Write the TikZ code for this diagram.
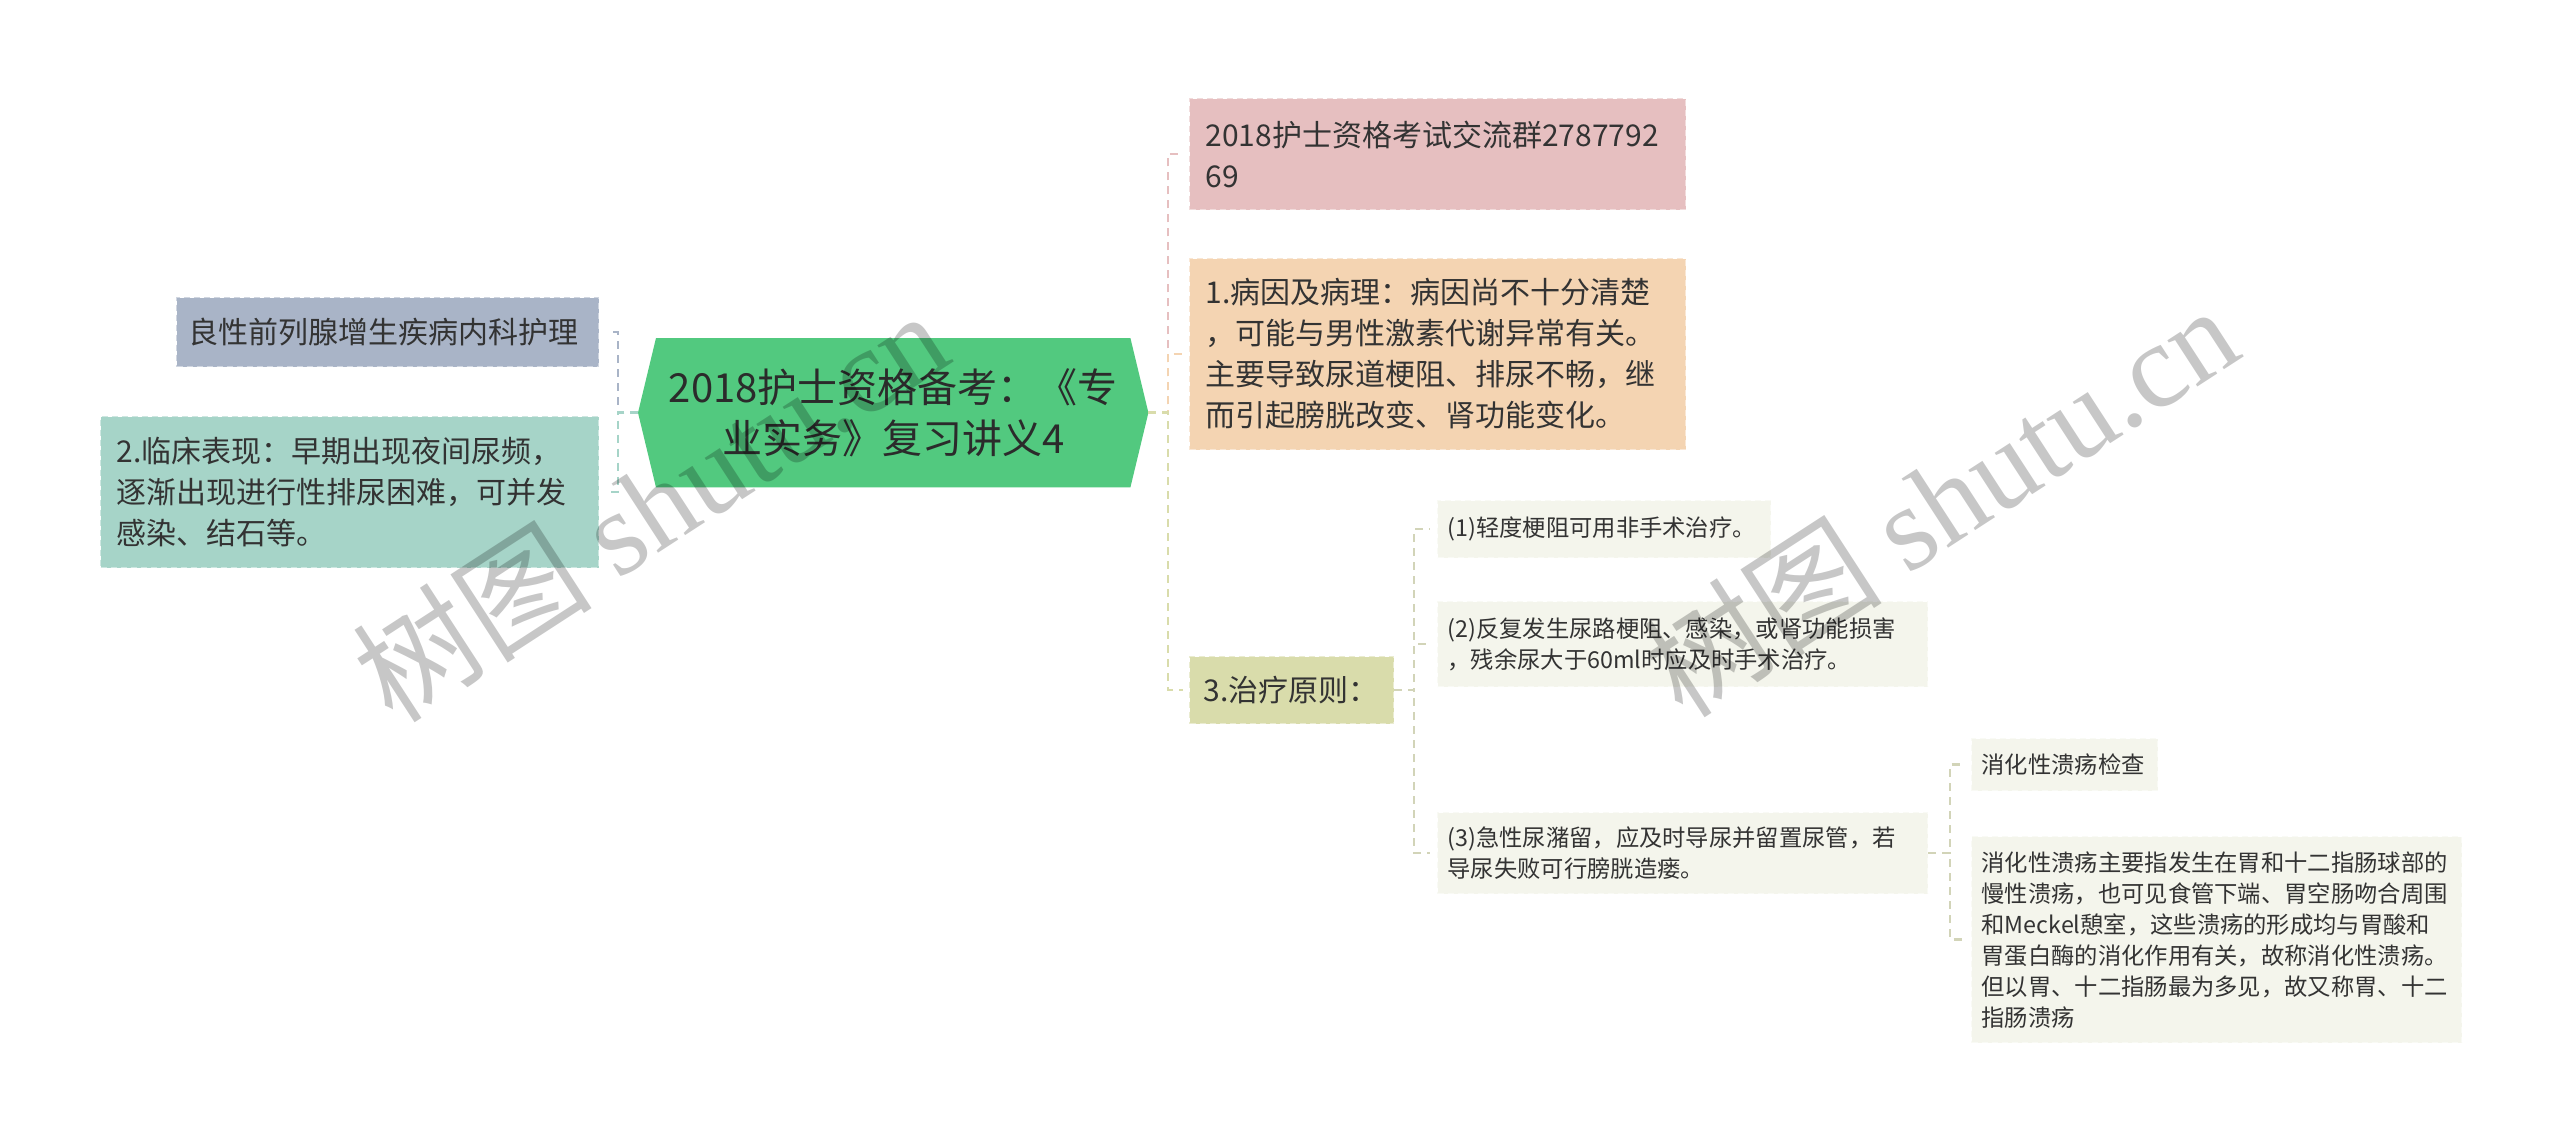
\documentclass[tikz,border=0pt]{standalone}
\usepackage{fontspec}
\setmainfont{Noto Sans CJK SC}
\newfontfamily\wmlatin{Liberation Serif}
\usetikzlibrary{backgrounds}
\definecolor{txt}{HTML}{333333}
\definecolor{cRoot}{HTML}{52C97F}
\definecolor{cA}{HTML}{A9B4C7}
\definecolor{cB}{HTML}{A6D4C8}
\definecolor{cC}{HTML}{E6BFC0}
\definecolor{cD}{HTML}{F4D4B2}
\definecolor{cE}{HTML}{D9DCAB}
\definecolor{cS}{HTML}{F4F5EC}
\definecolor{cL}{HTML}{D2D4B8}
\begin{document}
\begin{tikzpicture}[x=1pt,y=-1pt,
  box/.style={anchor=north west, inner xsep=16pt, inner ysep=0pt, align=left,
    text=txt, fill=#1, draw=#1!55!white, dash pattern=on 6pt off 4pt, line width=1.2pt,
    font=\fontsize{30pt}{41pt}\selectfont},
  sbox/.style={box=cS, inner xsep=10pt, font=\fontsize{23.3pt}{31pt}\selectfont},
  conn/.style={line width=2.5pt, dash pattern=on 8pt off 6pt}]
\useasboundingbox (0,0) rectangle (2560,1143);

% root
\node[anchor=north west, minimum width=510pt, minimum height=149pt, inner sep=0pt,
  align=center, text=txt!85!black, font=\fontsize{40pt}{51pt}\selectfont] (root) at (638,338)
  {2018护士资格备考：《专\\业实务》复习讲义4};

% left children
\node[box=cA, inner xsep=12pt, minimum width=422pt, minimum height=69pt, text width=398pt] (A) at (176,297)
  {良性前列腺增生疾病内科护理};
\node[box=cB, minimum width=498pt, minimum height=151pt, text width=466pt] (B) at (100,416)
  {2.临床表现：早期出现夜间尿频，\\逐渐出现进行性排尿困难，可并发\\感染、结石等。};

% right children
\node[box=cC, minimum width=496pt, minimum height=111pt, text width=464pt] (C) at (1189,98)
  {2018护士资格考试交流群2787792\\69};
\node[box=cD, minimum width=496pt, minimum height=191pt, text width=464pt] (D) at (1189,258)
  {1.病因及病理：病因尚不十分清楚\\，可能与男性激素代谢异常有关。\\主要导致尿道梗阻、排尿不畅，继\\而引起膀胱改变、肾功能变化。};
\node[box=cE, inner xsep=14pt, minimum width=204pt, minimum height=67pt, text width=176pt] (E) at (1189,656)
  {3.治疗原则：};

% level 3
\node[sbox, minimum width=333pt, minimum height=57pt, text width=313pt] (F) at (1437,500)
  {(1)轻度梗阻可用非手术治疗。};
\node[sbox, minimum width=490pt, minimum height=85pt, text width=470pt] (G) at (1437,601)
  {(2)反复发生尿路梗阻、感染，或肾功能损害\\，残余尿大于60ml时应及时手术治疗。};
\node[sbox, minimum width=490pt, minimum height=81pt, text width=470pt] (H) at (1437,812)
  {(3)急性尿潴留，应及时导尿并留置尿管，若\\导尿失败可行膀胱造瘘。};

% level 4
\node[sbox, minimum width=186pt, minimum height=52pt, text width=166pt] (I) at (1971,738)
  {消化性溃疡检查};
\node[sbox, minimum width=490pt, minimum height=206pt, text width=470pt] (J) at (1971,836)
  {消化性溃疡主要指发生在胃和十二指肠球部的\\慢性溃疡，也可见食管下端、胃空肠吻合周围\\和Meckel憩室，这些溃疡的形成均与胃酸和\\胃蛋白酶的消化作用有关，故称消化性溃疡。\\但以胃、十二指肠最为多见，故又称胃、十二\\指肠溃疡};

% background + hexagon
\begin{scope}[on background layer]
  \fill[white] (0,0) rectangle (2560,1143);
  \fill[cRoot] (root.west) -- ([xshift=18pt]root.north west) -- ([xshift=-18pt]root.north east)
    -- (root.east) -- ([xshift=-18pt]root.south east) -- ([xshift=18pt]root.south west) -- cycle;
\end{scope}

% bracket positions
\coordinate (lb) at (618,0);
\coordinate (rb) at (1168,0);
\coordinate (eb) at (1414,0);
\coordinate (hb) at (1950,0);

% connectors
\draw[conn, draw=cA] (root.west) -- (root.west -| lb) |- ([xshift=9pt]A.east);
\draw[conn, draw=cB] (root.west) -- (root.west -| lb) |- ([xshift=9pt]B.east);
\draw[conn, draw=cC] (root.east) -- (root.east -| rb) |- ([xshift=-6pt]C.west);
\draw[conn, draw=cD] (root.east) -- (root.east -| rb) |- ([xshift=-6pt]D.west);
\draw[conn, draw=cE] (root.east) -- (root.east -| rb) |- ([xshift=-6pt]E.west);
\draw[conn, draw=cL] (E.east) -- (E.east -| eb) |- ([xshift=-7pt]F.west);
\draw[conn, draw=cL] (E.east) -- (E.east -| eb) |- ([xshift=-7pt]G.west);
\draw[conn, draw=cL] (E.east) -- (E.east -| eb) |- ([xshift=-7pt]H.west);
\draw[conn, draw=cL] (H.east) -- (H.east -| hb) |- ([xshift=-7pt]I.west);
\draw[conn, draw=cL] (H.east) -- (H.east -| hb) |- ([xshift=-7pt]J.west);

% watermarks
\tikzset{wm/.style={text=black, text opacity=0.22, rotate=33, inner sep=0pt,
  font=\fontsize{120pt}{120pt}\selectfont}}
\node[wm] (wm1) at (650,505) {树图 {\wmlatin shutu.cn}};
\node[wm] (wm2) at (1940,500) {树图 {\wmlatin shutu.cn}};
\end{tikzpicture}
\end{document}
